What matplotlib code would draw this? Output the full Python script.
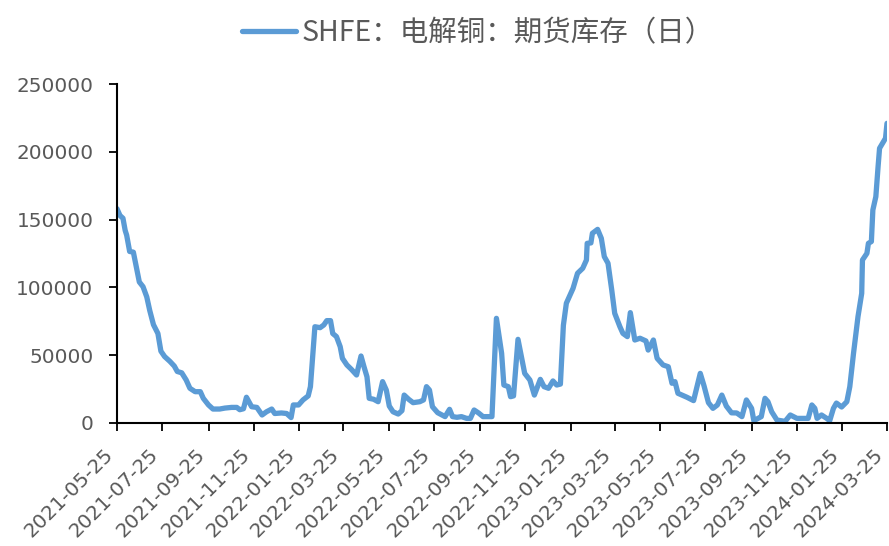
import numpy as np
import pandas as pd
import matplotlib
matplotlib.use('Agg')
import matplotlib.pyplot as plt
import matplotlib.dates as mdates

# SHFE copper futures inventory (tonnes)
dates = [
    '2021-05-25', '2021-05-29', '2021-06-02', '2021-06-05', '2021-06-07', '2021-06-11',
    '2021-06-16', '2021-06-20', '2021-06-24', '2021-06-29', '2021-07-04', '2021-07-08',
    '2021-07-13', '2021-07-19', '2021-07-23', '2021-07-28', '2021-08-04', '2021-08-10',
    '2021-08-14', '2021-08-20', '2021-08-26', '2021-08-31', '2021-09-07', '2021-09-14',
    '2021-09-18', '2021-09-25', '2021-10-01', '2021-10-10', '2021-10-17', '2021-10-26',
    '2021-11-02', '2021-11-06', '2021-11-11', '2021-11-15', '2021-11-22', '2021-11-29',
    '2021-12-06', '2021-12-12', '2021-12-19', '2021-12-23', '2022-01-01', '2022-01-08',
    '2022-01-14', '2022-01-17', '2022-01-24', '2022-01-30', '2022-02-06', '2022-02-09',
    '2022-02-15', '2022-02-22', '2022-02-27', '2022-03-03', '2022-03-08', '2022-03-11',
    '2022-03-16', '2022-03-21', '2022-03-24', '2022-03-30', '2022-04-05', '2022-04-12',
    '2022-04-18', '2022-04-22', '2022-04-26', '2022-04-29', '2022-05-05', '2022-05-11',
    '2022-05-17', '2022-05-22', '2022-05-26', '2022-05-31', '2022-06-07', '2022-06-12',
    '2022-06-15', '2022-06-21', '2022-06-27', '2022-07-06', '2022-07-11', '2022-07-15',
    '2022-07-19', '2022-07-23', '2022-07-30', '2022-08-09', '2022-08-15', '2022-08-19',
    '2022-08-25', '2022-08-31', '2022-09-07', '2022-09-12', '2022-09-17', '2022-09-23',
    '2022-09-29', '2022-10-11', '2022-10-17', '2022-10-24', '2022-10-27', '2022-11-02',
    '2022-11-05', '2022-11-09', '2022-11-15', '2022-11-20', '2022-11-24', '2022-12-01',
    '2022-12-07', '2022-12-15', '2022-12-20', '2022-12-26', '2023-01-01', '2023-01-06',
    '2023-01-11', '2023-01-15', '2023-01-19', '2023-01-28', '2023-02-03', '2023-02-10',
    '2023-02-15', '2023-02-16', '2023-02-21', '2023-02-23', '2023-03-02', '2023-03-07',
    '2023-03-11', '2023-03-16', '2023-03-21', '2023-03-25', '2023-04-01', '2023-04-05',
    '2023-04-11', '2023-04-15', '2023-04-21', '2023-04-28', '2023-05-06', '2023-05-09',
    '2023-05-16', '2023-05-21', '2023-05-29', '2023-06-05', '2023-06-10', '2023-06-14',
    '2023-06-18', '2023-06-30', '2023-07-09', '2023-07-18', '2023-07-23', '2023-07-29',
    '2023-08-04', '2023-08-10', '2023-08-16', '2023-08-22', '2023-08-29', '2023-09-05',
    '2023-09-12', '2023-09-18', '2023-09-25', '2023-09-28', '2023-10-08', '2023-10-13',
    '2023-10-17', '2023-10-22', '2023-10-29', '2023-11-09', '2023-11-16', '2023-11-25',
    '2023-12-03', '2023-12-10', '2023-12-15', '2023-12-19', '2023-12-22', '2023-12-28',
    '2024-01-04', '2024-01-08', '2024-01-13', '2024-01-17', '2024-01-24', '2024-01-31',
    '2024-02-04', '2024-02-09', '2024-02-15', '2024-02-20', '2024-02-21', '2024-02-27',
    '2024-02-29', '2024-03-04', '2024-03-06', '2024-03-10', '2024-03-13', '2024-03-15',
    '2024-03-19', '2024-03-23', '2024-03-25',
]
stock = [
    158000, 153000, 151000, 142000, 138500, 126500,
    126000, 115000, 104000, 100500, 93000, 83000,
    72500, 66000, 53000, 49000, 45500, 42000,
    38000, 37000, 31700, 25600, 23100, 23100,
    18200, 13300, 10300, 10300, 11000, 11500,
    11500, 9800, 10500, 19000, 12000, 11500,
    5900, 8300, 10300, 7000, 7400, 7000,
    4000, 13300, 13300, 17000, 20000, 26800,
    71000, 70300, 72300, 75500, 75500, 66000,
    63700, 56300, 47700, 42800, 39600, 35400,
    49400, 41500, 34100, 18200, 17500, 15700,
    30500, 24300, 12500, 8300, 6600, 9100,
    20600, 17500, 15000, 15700, 17000, 26800,
    24300, 12000, 7600, 4700, 10100, 4700,
    4200, 4700, 3400, 3400, 9600, 7400,
    4700, 4700, 77200, 51400, 28000, 26800,
    19400, 20000, 61700, 47700, 36600, 31700,
    20600, 32200, 26800, 25600, 31000, 28000,
    28700, 72000, 88300, 99300, 110400, 114100,
    120200, 132500, 132800, 139900, 142800, 136200,
    122700, 117800, 98100, 80900, 71000, 66100,
    63700, 81400, 61200, 62500, 60500, 53800,
    61200, 47700, 42800, 41500, 29300, 30500,
    21900, 19000, 16500, 36600, 27500, 15000,
    10800, 13300, 20600, 12500, 7500, 7400,
    4700, 17000, 10800, 1700, 4700, 18200,
    15700, 8300, 2200, 1200, 5900, 3400,
    3400, 3400, 13300, 10800, 3400, 5900,
    3400, 1700, 10800, 14700, 11800, 15700,
    26800, 51400, 78400, 95600, 120200, 125100,
    132500, 133800, 157100, 166900, 189000, 202600,
    206300, 210000, 221000,
]
series_name = 'SHFE：电解铜：期货库存（日）'
x_start, x_end = '2021-05-25', '2024-03-25'
y_ticks = [0, 50000, 100000, 150000, 200000, 250000]

LINE_COLOR = '#5B9BD5'
TEXT_COLOR = '#595959'

t = pd.to_datetime(dates)

fig = plt.figure(figsize=(8.89, 5.46), dpi=100)
ax = fig.add_axes([117 / 889, 1 - 423 / 546, 770 / 889, 339 / 546])

ax.plot(t, stock, color=LINE_COLOR, linewidth=3.8, solid_joinstyle='round',
        solid_capstyle='round', label=series_name)

ax.set_xlim(pd.Timestamp(x_start), pd.Timestamp(x_end))
ax.set_ylim(0, 250000)
ax.set_yticks(y_ticks)
ax.set_yticklabels([str(v) for v in y_ticks])

xt = pd.date_range(x_start, x_end, freq=pd.DateOffset(months=2))
ax.set_xticks(xt)
ax.set_xticklabels([d.strftime('%Y-%m-%d') for d in xt])
plt.setp(ax.get_xticklabels(), rotation=45, ha='right', va='top')

for s in ['top', 'right']:
    ax.spines[s].set_visible(False)
for s in ['left', 'bottom']:
    ax.spines[s].set_linewidth(1.5)
    ax.spines[s].set_color('black')

ax.tick_params(axis='both', direction='out', length=6, width=1.3, color='black',
               labelsize=14.4, labelcolor=TEXT_COLOR)
ax.tick_params(axis='y', pad=11)
ax.tick_params(axis='x', pad=10)

fig.legend(loc='center', bbox_to_anchor=(478 / 889, 1 - 33 / 546), frameon=False,
           prop={'family': ['Noto Sans CJK SC', 'DejaVu Sans'], 'size': 20.5},
           labelcolor=TEXT_COLOR, handlelength=1.9, handletextpad=0.18,
           borderpad=0, borderaxespad=0)

fig.savefig('out.png', dpi=100)
